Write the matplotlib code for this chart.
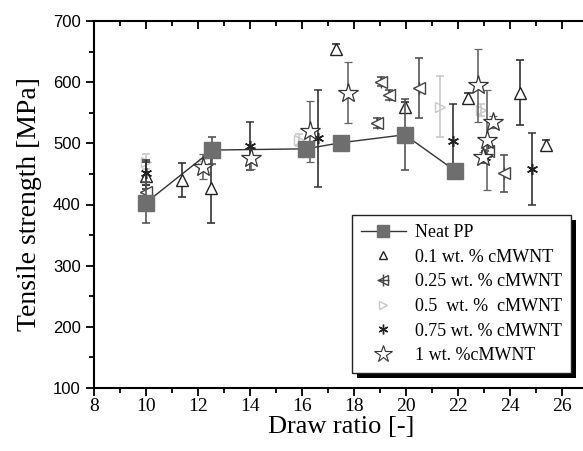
import matplotlib
matplotlib.use("Agg")
import matplotlib.pyplot as plt
from matplotlib.patches import Rectangle
from matplotlib.lines import Line2D
from matplotlib.ticker import MultipleLocator

# Neat PP
neat_x = [10.0, 12.55, 16.15, 17.5, 19.95, 21.9]
neat_y = [403, 489, 491, 501, 514, 455]
neat_err = [33, 22, 10, 5, 58, 12]

# 0.1 wt.% cMWNT
c01_x = [10.0, 11.4, 12.5, 17.3, 19.95, 22.4, 24.4, 25.4]
c01_y = [447, 440, 427, 655, 560, 574, 583, 497]
c01_err = [22, 28, 58, 8, 8, 8, 53, 8]

# 0.25 wt.% cMWNT
c025_x = [10.0, 18.9, 19.05, 19.35, 20.5, 23.15, 23.75]
c025_y = [420, 533, 601, 579, 590, 487, 451]
c025_err = [12, 8, 8, 8, 49, 10, 30]

# 0.5 wt.% cMWNT
c05_x = [10.0, 12.2, 15.9, 21.3, 22.9]
c05_y = [470, 465, 505, 560, 555]
c05_err = [12, 10, 10, 50, 10]

# 0.75 wt.% cMWNT
c075_x = [10.0, 14.0, 16.6, 21.8, 23.05, 24.85]
c075_y = [452, 496, 508, 503, 478, 458]
c075_err = [20, 39, 80, 61, 10, 59]

# 1 wt.% cMWNT
c1_x = [12.2, 14.05, 16.3, 17.75, 22.75, 23.1, 23.35, 22.97]
c1_y = [462, 476, 520, 583, 595, 505, 535, 478]
c1_err = [20, 18, 50, 50, 60, 82, 10, 8]

x_ticks = [8, 10, 12, 14, 16, 18, 20, 22, 24, 26]
y_ticks = [100, 200, 300, 400, 500, 600, 700]

labels = ["Neat PP", "0.1 wt. % cMWNT", "0.25 wt. % cMWNT",
          "0.5  wt. %  cMWNT", "0.75 wt. % cMWNT", "1 wt. %cMWNT"]

serif = ["Liberation Serif", "DejaVu Serif"]
sans = ["Liberation Sans", "DejaVu Sans"]
asterisk = (6, 2, 0)

fig = plt.figure(figsize=(5.83, 4.51), dpi=100)
ax = fig.add_axes([94 / 583, 1 - 388 / 451, 494 / 583, 367 / 451])

eb = dict(capsize=3, elinewidth=1.2, capthick=1.2, linestyle="none")

ax.errorbar(c05_x, c05_y, yerr=c05_err, marker=">", ms=7, mfc="none",
            mec="#c8c8c8", ecolor="#c8c8c8", color="#c8c8c8",
            zorder=2, **eb)
ax.errorbar(c01_x, c01_y, yerr=c01_err, marker="^", ms=8, mfc="white",
            mec="#222222", ecolor="#333333", color="#222222",
            zorder=3, **eb)
ax.errorbar(c025_x, c025_y, yerr=c025_err, marker="<", ms=8, mfc="white",
            mec="#444444", ecolor="#555555", color="#444444",
            zorder=3, **eb)
ax.plot(c025_x, c025_y, linestyle="none", marker="+", ms=9, mew=1.0,
        color="#444444", zorder=3)
ax.errorbar(c075_x, c075_y, yerr=c075_err, marker=asterisk, ms=8, mew=1.1,
            mec="#222222", ecolor="#333333", color="#222222",
            zorder=4, **eb)
ax.errorbar(c1_x, c1_y, yerr=c1_err, marker="*", ms=15, mfc="white",
            mec="#333333", mew=0.9, ecolor="#666666", color="#333333",
            zorder=4, **eb)
ax.errorbar(neat_x, neat_y, yerr=neat_err, marker="s", ms=11,
            mfc="#6e6e6e", mec="#6e6e6e", ecolor="#555555",
            color="#333333", lw=1.0, capsize=3, elinewidth=1.2,
            capthick=1.2, zorder=5)

ax.set_xlim(8, 27)
ax.set_ylim(100, 700)
ax.set_xticks(x_ticks)
ax.set_yticks(y_ticks)
ax.xaxis.set_minor_locator(MultipleLocator(1))
ax.yaxis.set_minor_locator(MultipleLocator(50))

for s in ax.spines.values():
    s.set_linewidth(1.5)
ax.tick_params(which="both", top=True, right=True, width=1.3)
ax.tick_params(which="major", length=6)
ax.tick_params(which="minor", length=3.5)
ax.tick_params(axis="both", which="both", direction="out")
ax.tick_params(axis="x", pad=1)
for t in ax.xaxis.get_major_ticks() + ax.xaxis.get_minor_ticks():
    t.tick2line.set_marker(3)  # top ticks point inward
for t in ax.yaxis.get_major_ticks() + ax.yaxis.get_minor_ticks():
    t.tick2line.set_marker(1)  # right ticks point inward

for lab in ax.get_xticklabels():
    lab.set_fontfamily(serif)
    lab.set_fontsize(14)
for lab in ax.get_yticklabels():
    lab.set_fontfamily(sans)
    lab.set_fontsize(12)

ax.set_xlabel("Draw ratio [-]", fontfamily=serif, fontsize=19, labelpad=1)
ax.set_ylabel("Tensile strength [MPa]", fontfamily=serif, fontsize=20,
              labelpad=8)

handles = [
    Line2D([], [], color="#333333", lw=1.0, marker="s", ms=9,
           mfc="#6e6e6e", mec="#6e6e6e"),
    Line2D([], [], ls="none", marker="^", ms=6, mfc="white", mec="#222222"),
    (Line2D([], [], ls="none", marker="<", ms=7, mfc="white", mec="#444444"),
     Line2D([], [], ls="none", marker="+", ms=8, color="#444444")),
    Line2D([], [], ls="none", marker=">", ms=6, mfc="none", mec="#c8c8c8"),
    Line2D([], [], ls="none", marker=asterisk, ms=7, mew=1.0,
           color="#222222"),
    Line2D([], [], ls="none", marker="*", ms=13, mfc="white", mec="#333333",
           mew=0.8),
]
leg = ax.legend(handles, labels, loc="upper left",
                bbox_to_anchor=(0.522, 0.471), borderaxespad=0,
                prop={"family": serif, "size": 13}, frameon=True,
                fancybox=False, edgecolor="#222222", framealpha=1,
                labelspacing=0.42, handlelength=2.5, handletextpad=0.5,
                borderpad=0.5)
leg.get_frame().set_linewidth(1.0)
leg.set_zorder(10)

fig.canvas.draw()
bb = leg.get_window_extent().transformed(fig.transFigure.inverted())
shadow = Rectangle((bb.x0 + 5 / 583, bb.y0 - 5 / 451), bb.width, bb.height,
                   transform=fig.transFigure, facecolor="black",
                   edgecolor="none", zorder=9, clip_on=False)
ax.add_patch(shadow)

fig.savefig("out.png", dpi=100)
